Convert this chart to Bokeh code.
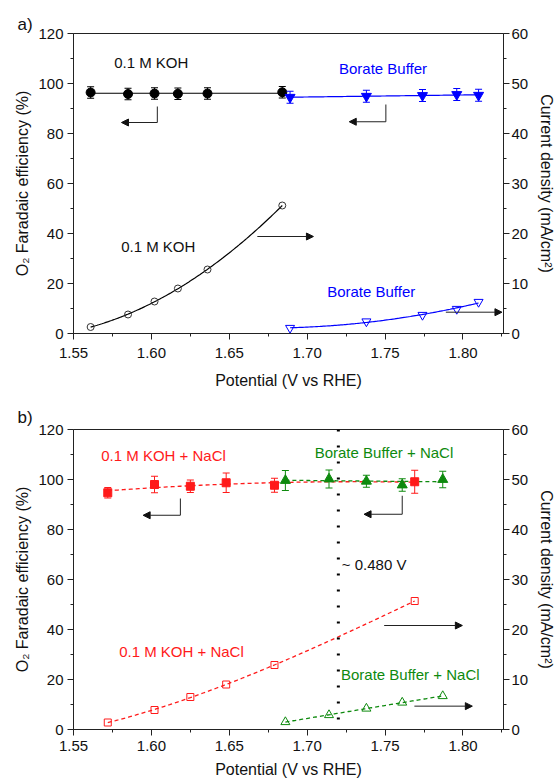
import numpy as np
from bokeh.plotting import figure
from bokeh.models import (Range1d, LinearAxis, FixedTicker, PrintfTickFormatter, Whisker,
                          TeeHead, ColumnDataSource, Label, Arrow, NormalHead, Span)
from bokeh.layouts import column
from bokeh.embed import file_html
from bokeh.resources import INLINE

# ---------------- data ----------------
potential_ticks = [1.55, 1.60, 1.65, 1.70, 1.75, 1.80]
fe_ticks = [0, 20, 40, 60, 80, 100, 120]
cd_ticks = [0, 10, 20, 30, 40, 50, 60]

# panel a : 0.1 M KOH
koh_x = [1.561, 1.585, 1.602, 1.617, 1.636, 1.684]
koh_fe = [96.4, 95.8, 96.0, 95.9, 96.0, 96.5]
koh_fe_err = [2.3, 2.3, 2.3, 2.3, 2.3, 2.3]
koh_j = [1.3, 3.8, 6.4, 9.0, 12.8, 25.6]

# panel a : Borate Buffer
borate_x = [1.689, 1.738, 1.774, 1.796, 1.810]
borate_fe = [94.5, 94.9, 95.2, 95.6, 95.3]
borate_fe_err = [2.4, 2.4, 2.4, 2.4, 2.4]
borate_j = [1.1, 2.4, 3.7, 4.9, 6.3]

# panel b : 0.1 M KOH + NaCl
kohnacl_x = [1.572, 1.602, 1.625, 1.648, 1.679, 1.769]
kohnacl_fe = [94.7, 98.0, 97.3, 98.7, 97.7, 99.1]
kohnacl_fe_err = [2.1, 3.3, 2.5, 3.9, 2.8, 4.6]
kohnacl_j = [1.4, 3.9, 6.5, 9.0, 12.9, 25.7]

# panel b : Borate Buffer + NaCl
boratenacl_x = [1.686, 1.714, 1.738, 1.761, 1.787]
boratenacl_fe = [99.6, 100.2, 99.3, 97.8, 100.0]
boratenacl_fe_err = [4.0, 3.6, 2.4, 2.5, 3.3]
boratenacl_j = [1.5, 2.9, 4.2, 5.4, 6.7]

gap_potential = [1.72]
gap_label = "~ 0.480 V"
panel_tags = ["a)", "b)"]

FONT = "Liberation Sans"
BLUE = "#0000ff"
RED = "#ff1a1a"
GREEN = "#0e8a0e"


def fit_curve(x, y, deg, n=120):
    x = np.asarray(x, float)
    y = np.asarray(y, float)
    xc = x.mean()
    c = np.polyfit(x - xc, y, deg)
    xs = np.linspace(x.min(), x.max(), n)
    return xs, np.polyval(c, xs - xc)


def make_fig(height, top, bottom, xl_standoff, xa_standoff, tag, tag_standoff):
    p = figure(width=560, height=height, x_range=Range1d(1.55, 1.826), y_range=Range1d(0, 120),
               output_backend="svg", toolbar_location=None,
               min_border_left=73, min_border_right=57, min_border_top=top, min_border_bottom=bottom)
    p.extra_y_ranges = {"cd": Range1d(0, 60)}
    p.xgrid.visible = False
    p.ygrid.visible = False
    p.outline_line_color = "#222222"
    p.outline_line_alpha = 1
    p.outline_line_width = 1
    p.background_fill_color = "white"

    p.title.text = tag
    p.title.align = "left"
    p.title.offset = -56
    p.title.text_font = FONT
    p.title.text_font_size = "17px"
    p.title.text_font_style = "normal"
    p.title.text_color = "#111111"
    p.title.standoff = tag_standoff

    xt = np.array(potential_ticks)
    yt = np.array(fe_ticks)
    ct = np.array(cd_ticks)
    p.xaxis.ticker = FixedTicker(ticks=potential_ticks,
                                 minor_ticks=list(np.concatenate([xt[:-1] + 0.025, [xt[-1] + 0.025]])))
    p.xaxis.formatter = PrintfTickFormatter(format="%.2f")
    p.yaxis.ticker = FixedTicker(ticks=fe_ticks, minor_ticks=list(yt[:-1] + 10))

    ax_r = LinearAxis(y_range_name="cd", ticker=FixedTicker(ticks=cd_ticks, minor_ticks=list(ct[:-1] + 5)))
    p.add_layout(ax_r, "right")

    p.xaxis.axis_label = "Potential (V vs RHE)"
    p.yaxis.axis_label = "O\u2082 Faradaic efficiency (%)"
    ax_r.axis_label = "Current density (mA/cm\u00b2)"

    for ax in p.axis:
        ax.axis_line_color = "#222222"
        ax.major_tick_line_color = "#222222"
        ax.minor_tick_line_color = "#222222"
        ax.major_tick_out = 6
        ax.major_tick_in = 0
        ax.minor_tick_out = 3
        ax.minor_tick_in = 0
        ax.major_label_text_font = FONT
        ax.major_label_text_font_size = "15px"
        ax.major_label_text_color = "#111111"
        ax.axis_label_text_font = FONT
        ax.axis_label_text_font_size = "16px"
        ax.axis_label_text_font_style = "normal"
        ax.axis_label_text_color = "#111111"
    p.xaxis.major_label_standoff = xl_standoff
    p.xaxis.axis_label_standoff = xa_standoff
    p.yaxis.major_label_standoff = 4
    p.yaxis.axis_label_standoff = 4
    ax_r.major_label_standoff = 2
    ax_r.axis_label_standoff = 7
    return p


def whiskers(p, x, y, err, color):
    y = np.asarray(y, float)
    e = np.asarray(err, float)
    src = ColumnDataSource(dict(x=x, up=y + e, lo=y - e))
    p.add_layout(Whisker(source=src, base="x", upper="up", lower="lo", line_color=color, line_width=1,
                         upper_head=TeeHead(size=7, line_color=color, line_width=1),
                         lower_head=TeeHead(size=7, line_color=color, line_width=1),
                         level="glyph"))


def label(p, x, y, text, color="#111111", size="15px"):
    p.add_layout(Label(x=x, y=y, text=text, text_color=color, text_font=FONT, text_font_size=size,
                       text_baseline="middle", text_align="left"))


def l_arrow(p, xv, y0, y1, x1):
    p.add_layout(Arrow(end=None, x_start=xv, y_start=y0, x_end=xv, y_end=y1, line_color="#222222", line_width=1))
    p.add_layout(Arrow(end=NormalHead(size=7, fill_color="#111111", line_color="#111111"),
                       x_start=xv, y_start=y1, x_end=x1, y_end=y1, line_color="#222222", line_width=1))


def h_arrow(p, x0, x1, y):
    p.add_layout(Arrow(end=NormalHead(size=7, fill_color="#111111", line_color="#111111"),
                       x_start=x0, y_start=y, x_end=x1, y_end=y, line_color="#222222", line_width=1,
                       y_range_name="cd"))


# ---------------- panel a ----------------
pa = make_fig(393, 33, 60, 8, 11, panel_tags[0], 0)

xs, ys = fit_curve(koh_x, koh_fe, 0)
pa.line(xs, ys, line_color="black", line_width=1.2)
xs, ys = fit_curve(borate_x, borate_fe, 1)
pa.line(xs, ys, line_color=BLUE, line_width=1.2)
whiskers(pa, koh_x, koh_fe, koh_fe_err, "black")
whiskers(pa, borate_x, borate_fe, borate_fe_err, BLUE)
pa.scatter(koh_x, koh_fe, marker="circle", size=9, fill_color="black", line_color="black")
pa.scatter(borate_x, borate_fe, marker="inverted_triangle", size=10, fill_color=BLUE, line_color=BLUE)

xs, ys = fit_curve(koh_x, koh_j, 3)
pa.line(xs, ys, line_color="black", line_width=1.2, y_range_name="cd")
xs, ys = fit_curve(borate_x, borate_j, 2)
pa.line(xs, ys, line_color=BLUE, line_width=1.2, y_range_name="cd")
pa.scatter(koh_x, koh_j, marker="circle", size=7, fill_color="white", fill_alpha=0,
           line_color="#333333", line_width=1, y_range_name="cd")
pa.scatter(borate_x, borate_j, marker="inverted_triangle", size=9, fill_color="white", fill_alpha=0,
           line_color=BLUE, line_width=1, y_range_name="cd")

label(pa, 1.5761, 108.4, "0.1 M KOH")
label(pa, 1.7204, 106.0, "Borate Buffer", BLUE)
label(pa, 1.5806, 34.8, "0.1 M KOH")
label(pa, 1.7128, 16.8, "Borate Buffer", BLUE)

l_arrow(pa, 1.6038, 90.8, 84.4, 1.5808)
l_arrow(pa, 1.7505, 91.6, 84.7, 1.727)
h_arrow(pa, 1.668, 1.704, 19.4)
h_arrow(pa, 1.789, 1.825, 4.26)

# ---------------- panel b ----------------
pb = make_fig(387, 36, 51, 5, 7, panel_tags[1], 6)

pb.add_layout(Span(location=gap_potential[0], dimension="height", line_color="black",
                   line_width=3, line_dash="2 14"))

xs, ys = fit_curve(kohnacl_x, kohnacl_fe, 2)
pb.line(xs, ys, line_color=RED, line_width=1.3, line_dash="4 3")
xs, ys = fit_curve(boratenacl_x, boratenacl_fe, 1)
pb.line(xs, ys, line_color=GREEN, line_width=1.3, line_dash="4 3")
whiskers(pb, kohnacl_x, kohnacl_fe, kohnacl_fe_err, RED)
whiskers(pb, boratenacl_x, boratenacl_fe, boratenacl_fe_err, GREEN)
pb.scatter(kohnacl_x, kohnacl_fe, marker="square", size=8, fill_color=RED, line_color=RED)
pb.scatter(boratenacl_x, boratenacl_fe, marker="triangle", size=10, fill_color=GREEN, line_color=GREEN)

xs, ys = fit_curve(kohnacl_x, kohnacl_j, 3)
pb.line(xs, ys, line_color=RED, line_width=1.3, line_dash="4 3", y_range_name="cd")
xs, ys = fit_curve(boratenacl_x, boratenacl_j, 2)
pb.line(xs, ys, line_color=GREEN, line_width=1.3, line_dash="4 3", y_range_name="cd")
pb.scatter(kohnacl_x, kohnacl_j, marker="square", size=7, fill_color="white", fill_alpha=0,
           line_color=RED, line_width=1, y_range_name="cd")
pb.scatter(boratenacl_x, boratenacl_j, marker="triangle", size=9, fill_color="white", fill_alpha=0,
           line_color=GREEN, line_width=1, y_range_name="cd")

label(pb, 1.5678, 109.7, "0.1 M KOH + NaCl", RED)
label(pb, 1.7048, 110.8, "Borate Buffer + NaCl", GREEN)
label(pb, 1.5793, 31.3, "0.1 M KOH + NaCl", RED)
label(pb, 1.7217, 22.1, "Borate Buffer + NaCl", GREEN)
label(pb, 1.7222, 66.1, gap_label)

l_arrow(pb, 1.6186, 92.4, 85.7, 1.5947)
l_arrow(pb, 1.761, 93.5, 86.1, 1.7365)
h_arrow(pb, 1.7494, 1.7996, 20.8)
h_arrow(pb, 1.7688, 1.806, 4.67)

layout = column(pa, pb, spacing=0)
open("out.html", "w").write(file_html(layout, INLINE))
